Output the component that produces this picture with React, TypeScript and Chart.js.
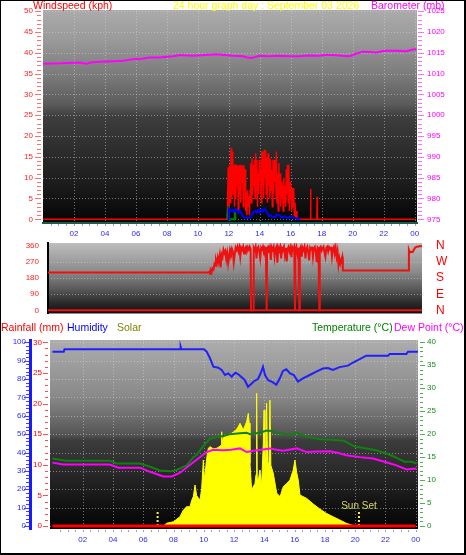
import React, { useEffect, useRef } from 'react';
import { Chart, registerables } from 'chart.js';

Chart.register(...registerables);

const FONT = '"Liberation Sans", Arial, Helvetica, sans-serif';

// ---------- tick labels ----------
const hourTicks = [2, 4, 6, 8, 10, 12, 14, 16, 18, 20, 22, 24];
const windTicks = [0, 5, 10, 15, 20, 25, 30, 35, 40, 45, 50];
const baroTicks = [975, 980, 985, 990, 995, 1000, 1005, 1010, 1015, 1020, 1025];
const dirTicks = [0, 90, 180, 270, 360];
const compassLabels = ['N', 'E', 'S', 'W', 'N'];
const humidityTicks = [0, 10, 20, 30, 40, 50, 60, 70, 80, 90, 100];
const rainTicks = [0, 5, 10, 15, 20, 25, 30];
const tempTicks = [0, 5, 10, 15, 20, 25, 30, 35, 40];

// ---------- panel 1: wind speed (kph) & barometer (mb) ----------
const baroHours = [0, 1.2, 2.39, 2.6, 2.82, 3.1, 3.68, 4.5, 5.18, 5.83, 6.4, 6.9, 7.5, 7.99, 8.4, 8.84, 9.3, 9.7, 10.5, 11.2, 11.7, 12.27, 12.9, 13.2, 13.45, 13.7, 14.0, 14.6, 15.2, 16.0, 16.57, 17.1, 17.8, 18.2, 18.72, 19.3, 19.8, 20.2, 20.66, 21.1, 21.52, 21.9, 22.17, 22.8, 23.46, 23.89, 24.1];
const baroValues = [1012.4, 1012.5, 1012.7, 1012.5, 1012.4, 1012.7, 1012.9, 1013.0, 1013.1, 1013.5, 1013.6, 1013.9, 1013.9, 1014.1, 1014.2, 1014.5, 1014.4, 1014.3, 1014.5, 1014.7, 1014.5, 1014.3, 1014.2, 1013.9, 1013.8, 1014.0, 1014.3, 1014.2, 1014.3, 1014.2, 1014.2, 1014.4, 1014.3, 1014.5, 1014.5, 1014.3, 1014.2, 1014.8, 1015.3, 1015.2, 1015.1, 1015.4, 1015.5, 1015.5, 1015.4, 1015.8, 1015.9];

const gustHours = [0, 11.9, 11.96, 12.0, 12.04, 12.08, 12.12, 12.15, 12.18, 12.22, 12.25, 12.29, 12.33, 12.37, 12.41, 12.45, 12.49, 12.53, 12.57, 12.61, 12.65, 12.69, 12.73, 12.77, 12.81, 12.85, 12.89, 12.93, 12.97, 13.01, 13.05, 13.09, 13.13, 13.17, 13.21, 13.25, 13.29, 13.33, 13.37, 13.41, 13.45, 13.49, 13.53, 13.57, 13.61, 13.65, 13.69, 13.73, 13.77, 13.81, 13.85, 13.89, 13.93, 13.97, 14.01, 14.05, 14.09, 14.13, 14.17, 14.21, 14.25, 14.29, 14.33, 14.37, 14.41, 14.45, 14.49, 14.53, 14.57, 14.61, 14.65, 14.69, 14.73, 14.77, 14.81, 14.85, 14.89, 14.93, 14.97, 15.01, 15.05, 15.07, 15.11, 15.15, 15.19, 15.23, 15.27, 15.31, 15.35, 15.39, 15.43, 15.47, 15.51, 15.55, 15.59, 15.63, 15.67, 15.71, 15.75, 15.79, 15.83, 15.87, 15.91, 15.95, 15.99, 16.03, 16.07, 16.11, 16.15, 16.19, 16.23, 16.27, 16.31, 16.35, 16.4, 17.26, 17.28, 17.3, 17.68, 17.7, 17.72, 24];
const gustValues = [0, 0, 12.5, 3, 13, 4, 13, 17.2, 5, 13, 16.3, 6, 13, 3, 13.2, 5, 13, 8, 13, 2, 13, 6, 13.1, 4, 13, 9, 13, 3, 13, 7, 12, 2, 6.5, 1, 7, 3, 5.5, 1, 7, 13.5, 4, 14.7, 6, 13, 8, 14.3, 5, 15.9, 7, 14.3, 3, 11, 6, 14.3, 9, 12, 4, 16.3, 8, 16.3, 5, 16.7, 10, 16.7, 6, 15, 4, 15.9, 8, 14.7, 5, 14.3, 7, 12, 3, 14.3, 6, 14.3, 9, 14.3, 5, 16.3, 4, 11, 2, 13.5, 6, 11, 3, 9, 5, 8, 2, 10, 4, 8, 3, 12, 6, 13.1, 4, 13.1, 2, 9, 5, 7.5, 2, 7.5, 3, 7.5, 1, 4, 0.5, 2, 0, 0, 7.3, 0, 0, 5.4, 0, 0];

const avgWindHours = [11.95, 12.0, 12.1, 12.2, 12.3, 12.4, 12.5, 12.6, 12.7, 12.8, 12.9, 13.0, 13.2, 13.4, 13.5, 13.6, 13.7, 13.8, 13.9, 14.0, 14.1, 14.2, 14.3, 14.4, 14.5, 14.6, 14.7, 14.8, 15.0, 15.1, 15.3, 15.5, 15.6, 15.8, 16.0, 16.2, 16.4, 16.6];
const avgWindValues = [0, 2.5, 2.0, 2.3, 1.8, 2.4, 2.0, 1.6, 2.2, 1.5, 0.8, 0.4, 0.3, 0.4, 1.0, 1.8, 2.0, 1.6, 2.2, 1.7, 2.3, 1.9, 2.5, 2.0, 1.4, 0.8, 1.0, 0.6, 0.5, 1.2, 0.8, 0.4, 0.7, 0.3, 0.6, 0.3, 0.2, 0];

const lullHours = [11.9, 11.96, 12.0, 12.35, 12.39, 12.43];
const lullValues = [0, 3.0, 0, 0, 1.7, 0];

// ---------- panel 2: wind direction (degrees) ----------
const dirHours = [0, 10.29, 10.35, 10.4, 10.45, 10.5, 10.55, 10.62, 10.68, 10.72, 10.78, 10.84, 10.9, 10.96, 11.02, 11.08, 11.14, 11.2, 11.26, 11.32, 11.38, 11.44, 11.5, 11.56, 11.62, 11.68, 11.74, 11.8, 11.86, 11.92, 11.98, 12.04, 12.1, 12.16, 12.22, 12.28, 12.34, 12.4, 12.46, 12.52, 12.58, 12.64, 12.7, 12.76, 12.82, 12.88, 12.94, 13.0, 13.03, 13.18, 13.2, 13.26, 13.32, 13.38, 13.44, 13.5, 13.56, 13.62, 13.68, 13.74, 13.8, 13.86, 13.92, 13.98, 14.03, 14.06, 14.12, 14.18, 14.24, 14.3, 14.36, 14.42, 14.48, 14.54, 14.6, 14.66, 14.72, 14.78, 14.84, 14.9, 14.96, 15.02, 15.08, 15.14, 15.2, 15.26, 15.32, 15.38, 15.44, 15.5, 15.56, 15.62, 15.68, 15.74, 15.8, 15.85, 15.88, 15.94, 16.0, 16.06, 16.13, 16.16, 16.22, 16.28, 16.34, 16.4, 16.46, 16.52, 16.58, 16.64, 16.7, 16.76, 16.82, 16.88, 16.94, 17.0, 17.06, 17.12, 17.18, 17.24, 17.3, 17.36, 17.41, 17.44, 17.5, 17.56, 17.62, 17.68, 17.74, 17.8, 17.86, 17.92, 17.98, 18.04, 18.1, 18.16, 18.22, 18.28, 18.34, 18.4, 18.46, 18.52, 18.58, 18.64, 18.7, 18.76, 18.82, 18.88, 18.92, 23.13, 23.16, 23.22, 23.3, 23.4, 23.55, 23.66, 24];
const dirValues = [211, 211, 216, 205, 222, 213, 235, 228, 258, 250, 282, 262, 295, 270, 305, 240, 312, 298, 338, 320, 332, 285, 318, 262, 300, 340, 322, 345, 330, 268, 310, 350, 338, 356, 330, 352, 300, 350, 340, 356, 318, 348, 355, 330, 352, 340, 356, 345, 0, 0, 350, 338, 356, 291, 348, 356, 330, 291, 350, 340, 356, 335, 352, 345, 0, 350, 356, 320, 348, 282, 352, 340, 356, 300, 345, 356, 266, 350, 335, 356, 290, 348, 340, 356, 310, 350, 274, 345, 356, 330, 350, 298, 352, 340, 356, 0, 340, 356, 320, 350, 0, 345, 356, 300, 350, 338, 356, 290, 345, 356, 326, 280, 350, 340, 356, 300, 348, 356, 330, 270, 352, 345, 0, 350, 356, 335, 348, 356, 325, 300, 350, 356, 330, 352, 340, 356, 300, 345, 356, 319, 350, 300, 330, 254, 290, 262, 282, 300, 223, 223, 338, 323, 328, 326, 350, 356, 360];
const dirBaseHours = [0, 24];
const dirBaseValues = [0, 0];

// ---------- panel 3: rain, humidity, solar, temperature, dew point ----------
const rainHours = [0, 24];
const rainValues = [0, 0];

const humidityHours = [0, 0.75, 0.8, 8.43, 8.47, 8.52, 10.01, 10.19, 10.41, 10.63, 10.96, 11.18, 11.4, 11.62, 11.84, 11.93, 12.1, 12.3, 12.5, 12.7, 12.92, 13.15, 13.35, 13.58, 13.75, 13.91, 14.05, 14.24, 14.57, 14.79, 15.0, 15.23, 15.45, 15.7, 15.95, 16.22, 16.55, 17.0, 17.43, 17.87, 18.2, 18.53, 18.97, 19.52, 19.86, 20.3, 20.73, 22.17, 22.28, 23.38, 23.49, 24.15];
const humidityValues = [94.9, 94.9, 96.2, 96.2, 97.6, 96.2, 96.2, 94.9, 91.3, 86.7, 86.2, 84.9, 82.2, 83.1, 81.3, 82.2, 83.4, 82.5, 81.0, 79.5, 75.8, 77.5, 79.0, 80.0, 83.0, 86.7, 82.0, 79.5, 78.2, 76.9, 80.0, 84.4, 85.3, 83.0, 82.2, 78.6, 80.4, 82.2, 84.0, 85.7, 86.0, 84.9, 86.5, 87.3, 89.0, 90.8, 92.7, 92.7, 93.6, 93.6, 94.9, 94.9];

const tempHours = [0, 0.9, 3.8, 4.25, 5.8, 6.45, 7.1, 7.8, 8.2, 8.87, 9.31, 9.53, 9.97, 10.2, 10.41, 10.85, 11.3, 11.73, 12.4, 12.83, 13.05, 13.7, 14.15, 14.45, 15.03, 15.48, 15.9, 16.14, 16.57, 17.0, 17.67, 18.34, 19.19, 19.41, 19.7, 19.97, 20.73, 21.39, 22.05, 22.5, 22.94, 23.27, 23.7, 24.1];
const tempValues = [14.7, 14.2, 14.2, 13.6, 13.6, 12.9, 12.1, 11.9, 12.2, 13.2, 15.0, 15.5, 17.4, 18.3, 19.0, 19.4, 19.6, 20.0, 20.2, 20.3, 20.0, 20.3, 20.8, 20.7, 20.2, 19.9, 20.0, 20.3, 19.7, 19.3, 18.9, 18.8, 18.6, 18.3, 17.8, 17.3, 16.9, 16.5, 15.8, 15.2, 14.5, 14.0, 14.0, 13.6];

const dewHours = [0, 0.72, 3.8, 4.35, 5.8, 6.45, 7.33, 7.9, 8.43, 9.31, 10.19, 10.63, 11.29, 11.8, 12.39, 12.83, 13.3, 14.37, 14.8, 15.25, 16.14, 16.8, 17.5, 18.34, 18.9, 19.41, 20.3, 21.18, 22.05, 22.72, 23.38, 24.04];
const dewValues = [13.8, 13.4, 13.4, 12.7, 12.7, 11.8, 10.8, 10.8, 11.6, 13.9, 16.1, 16.6, 16.5, 16.6, 16.9, 16.1, 16.4, 16.9, 16.6, 16.4, 16.9, 16.1, 16.2, 16.3, 15.9, 15.4, 15.0, 14.7, 13.9, 13.2, 12.3, 12.5];

const solarHours = [7.33, 7.55, 7.99, 8.43, 8.65, 8.87, 9.09, 9.2, 9.31, 9.42, 9.53, 9.75, 9.86, 9.97, 10.03, 10.08, 10.19, 10.3, 10.41, 10.63, 10.85, 11.0, 11.15, 11.18, 11.22, 11.29, 11.51, 11.84, 12.1, 12.28, 12.39, 12.61, 12.83, 12.94, 13.0, 13.05, 13.16, 13.38, 13.45, 13.49, 13.53, 13.6, 13.71, 13.82, 13.93, 13.98, 14.04, 14.1, 14.15, 14.22, 14.3, 14.37, 14.43, 14.59, 14.82, 15.04, 15.25, 15.48, 15.69, 15.91, 16.02, 16.14, 16.24, 16.35, 16.8, 17.23, 17.67, 18.09, 18.53, 18.98, 19.41, 19.86, 20.3];
const solarValues = [0, 15, 23, 51, 87, 105, 105, 140, 160, 223, 165, 141, 205, 359, 260, 280, 368, 423, 432, 420, 423, 430, 440, 513, 450, 480, 495, 505, 520, 541, 559, 523, 568, 613, 560, 341, 196, 232, 280, 722, 260, 250, 305, 220, 450, 631, 400, 350, 668, 330, 350, 686, 330, 287, 178, 160, 214, 232, 250, 305, 359, 290, 250, 169, 150, 120, 92, 69, 51, 33, 15, 3, 0];

const sunRiseHour = 6.95;
const sunSetHour = 20.25;
const sunMarkerLevel = 82;

// ---------- helpers ----------
const pts = (xs: number[], ys: number[]) => xs.map((x, i) => ({ x, y: ys[i] }));
const setTicks = (vals: number[]) => (scale: any) => {
  scale.ticks = vals.map((v) => ({ value: v }));
};
const hourLabel = (v: any) => String(Number(v) % 24).padStart(2, '0');
const plainLabel = (v: any) => String(v);
const fitY = (w: number) => (s: any) => {
  s.width = w;
  s.paddingTop = 0;
  s.paddingBottom = 0;
};
const fitX = (h: number) => (s: any) => {
  s.height = h;
  s.paddingLeft = 0;
  s.paddingRight = 0;
};

type TickSpec = {
  id: string; from: number; to: number; step: number; major: number;
  x0: number; x1: number; xm0: number; xm1: number; color: string;
};

type DecoSpec = {
  grad: [number, string][];
  vGrid: boolean;
  hScale: string;
  hTicks: number[];
  yTicks: TickSpec[];
  xMinor: boolean;
};

function decoPlugin(spec: DecoSpec) {
  return {
    id: 'deco',
    beforeDraw(chart: any) {
      const { ctx, chartArea: a, scales } = chart;
      ctx.save();
      const g = ctx.createLinearGradient(0, a.top, 0, a.bottom);
      spec.grad.forEach(([o, c]) => g.addColorStop(o, c));
      ctx.fillStyle = g;
      ctx.fillRect(a.left, a.top, a.right - a.left, a.bottom - a.top);
      ctx.strokeStyle = 'rgba(215,215,215,0.5)';
      ctx.lineWidth = 1;
      ctx.setLineDash([1, 2]);
      if (spec.vGrid) {
        hourTicks.forEach((h) => {
          const x = Math.round(scales.x.getPixelForValue(h)) + 0.5;
          if (x > a.right) return;
          ctx.beginPath();
          ctx.moveTo(x, a.top);
          ctx.lineTo(x, a.bottom);
          ctx.stroke();
        });
      }
      spec.hTicks.forEach((v) => {
        const y = Math.round(scales[spec.hScale].getPixelForValue(v)) + 0.5;
        ctx.beginPath();
        ctx.moveTo(a.left, y);
        ctx.lineTo(a.right, y);
        ctx.stroke();
      });
      ctx.restore();
    },
    afterDraw(chart: any) {
      const { ctx, chartArea: a, scales } = chart;
      ctx.save();
      ctx.lineWidth = 1;
      spec.yTicks.forEach((s) => {
        const sc = scales[s.id];
        ctx.strokeStyle = s.color;
        for (let v = s.from; v <= s.to + 1e-9; v += s.step) {
          const y = Math.round(sc.getPixelForValue(v)) + 0.5;
          const q = v / s.major;
          const major = Math.abs(q - Math.round(q)) < 1e-6;
          ctx.beginPath();
          ctx.moveTo(major ? s.xm0 : s.x0, y);
          ctx.lineTo(major ? s.xm1 : s.x1, y);
          ctx.stroke();
        }
      });
      if (spec.xMinor) {
        ctx.strokeStyle = '#9a9ad8';
        for (let h = 0.5; h <= 24; h += 0.5) {
          const x = Math.round(scales.x.getPixelForValue(h)) + 0.5;
          ctx.beginPath();
          ctx.moveTo(x, a.bottom + 1);
          ctx.lineTo(x, a.bottom + 3);
          ctx.stroke();
        }
      }
      ctx.restore();
    },
  };
}

const sunSetLabel = {
  id: 'sunSetLabel',
  afterDatasetsDraw(chart: any) {
    const { ctx, scales } = chart;
    const x = scales.x.getPixelForValue(sunSetHour);
    const y = scales.solar.getPixelForValue(sunMarkerLevel) - 5;
    ctx.save();
    ctx.font = `10px ${FONT}`;
    ctx.fillStyle = '#d8d860';
    ctx.textAlign = 'center';
    ctx.textBaseline = 'middle';
    ctx.fillText('Sun Set', x, y);
    ctx.restore();
  },
};

const line = (label: string, data: any[], axis: string, color: string, width: number, extra: any = {}) => ({
  label, data, yAxisID: axis, borderColor: color, backgroundColor: color, borderWidth: width,
  pointRadius: 0, tension: 0, fill: false, ...extra,
});

const tickFont = { size: 8, family: FONT };
const noGrid = { display: false, drawTicks: false };

const grad1: [number, string][] = [[0, '#ababab'], [0.14, '#9a9a9a'], [0.31, '#7a7a7a'], [0.44, '#5c5c5c'], [0.5, '#3e3e3e'], [0.73, '#252525'], [0.85, '#181818'], [1, '#040404']];
const grad2: [number, string][] = [[0, '#bdbdbd'], [0.4, '#8c8c8c'], [0.65, '#5a5a5a'], [0.85, '#2a2a2a'], [1, '#111111']];
const grad3: [number, string][] = [[0, '#adadad'], [0.29, '#8a8a8a'], [0.42, '#6a6a6a'], [0.5, '#555555'], [0.53, '#3c3c3c'], [0.69, '#2a2a2a'], [0.85, '#151515'], [1, '#030303']];

function makeChart1(canvas: HTMLCanvasElement) {
  return new Chart(canvas, {
    type: 'line',
    data: {
      datasets: [
        line('Average wind', pts(avgWindHours, avgWindValues), 'wind', '#0000ff', 2),
        line('Wind lull', pts(lullHours, lullValues), 'wind', '#008000', 2),
        line('Wind gust', pts(gustHours, gustValues), 'wind', '#ff0000', 1.5),
        line('Barometer', pts(baroHours, baroValues), 'baro', '#ff00ff', 2),
      ],
    },
    options: {
      animation: false, responsive: false, maintainAspectRatio: false, devicePixelRatio: 1,
      layout: { padding: { top: 10, bottom: 0, left: 0, right: 0 } },
      plugins: { legend: { display: false }, tooltip: { enabled: false }, title: { display: false } },
      scales: {
        x: {
          type: 'linear', min: 0, max: 24.15, afterBuildTicks: setTicks(hourTicks), afterFit: fitX(17),
          ticks: { callback: hourLabel, color: '#2a2aff', font: tickFont, padding: 6, maxRotation: 0, autoSkip: false },
          grid: noGrid, border: { display: true, color: '#1f5a4a', width: 2 },
        },
        wind: {
          type: 'linear', position: 'left', min: -0.89, max: 50.31, afterBuildTicks: setTicks(windTicks), afterFit: fitY(43),
          ticks: { callback: plainLabel, color: '#ff2020', font: tickFont, padding: 10, autoSkip: false },
          grid: noGrid, border: { display: false },
        },
        baro: {
          type: 'linear', position: 'right', min: 974.11, max: 1025.31, afterBuildTicks: setTicks(baroTicks), afterFit: fitY(49),
          ticks: { callback: plainLabel, color: '#ff00ff', font: tickFont, padding: 10, autoSkip: false },
          grid: noGrid, border: { display: false },
        },
      },
    } as any,
    plugins: [decoPlugin({
      grad: grad1, vGrid: true, hScale: 'wind', hTicks: windTicks, xMinor: true,
      yTicks: [
        { id: 'wind', from: 0, to: 50, step: 1, major: 5, x0: 37, x1: 41, xm0: 35, xm1: 41, color: '#ff7070' },
        { id: 'baro', from: 975, to: 1025, step: 1, major: 5, x0: 418, x1: 422, xm0: 418, xm1: 424, color: '#ff70ff' },
      ],
    })],
  });
}

function makeChart2(canvas: HTMLCanvasElement) {
  return new Chart(canvas, {
    type: 'line',
    data: {
      datasets: [
        line('Wind direction', pts(dirHours, dirValues), 'dir', '#ee1111', 2),
        line('Direction base', pts(dirBaseHours, dirBaseValues), 'dir', '#ee1111', 2),
      ],
    },
    options: {
      animation: false, responsive: false, maintainAspectRatio: false, devicePixelRatio: 1,
      layout: { padding: { top: 5, bottom: 4.5, left: 0, right: 0 } },
      plugins: { legend: { display: false }, tooltip: { enabled: false } },
      scales: {
        x: { type: 'linear', display: false, min: 0, max: 24 },
        dir: {
          type: 'linear', position: 'left', min: -17.9, max: 376.8, afterBuildTicks: setTicks(dirTicks), afterFit: fitY(48),
          ticks: { callback: plainLabel, color: '#ff2020', font: tickFont, padding: 9, autoSkip: false },
          grid: noGrid, border: { display: true, color: '#000000', width: 2 },
        },
        compass: {
          type: 'linear', position: 'right', min: -17.9, max: 376.8, afterBuildTicks: setTicks(dirTicks), afterFit: fitY(44),
          ticks: { callback: (v: any) => compassLabels[dirTicks.indexOf(Number(v))], color: '#ff0000', font: { size: 12, family: FONT }, padding: 14, autoSkip: false },
          grid: noGrid, border: { display: false },
        },
      },
    } as any,
    plugins: [decoPlugin({ grad: grad2, vGrid: false, hScale: 'dir', hTicks: [90, 180, 270], xMinor: false, yTicks: [] })],
  });
}

function makeChart3(canvas: HTMLCanvasElement) {
  return new Chart(canvas, {
    type: 'line',
    data: {
      datasets: [
        line('Rainfall', pts(rainHours, rainValues), 'rain', '#ff0000', 3),
        line('Sun rise', [{ x: sunRiseHour, y: 0 }, { x: sunRiseHour, y: sunMarkerLevel }], 'solar', '#f0f060', 2, { borderDash: [2, 2] }),
        line('Sun set', [{ x: sunSetHour, y: 0 }, { x: sunSetHour, y: sunMarkerLevel }], 'solar', '#f0f060', 2, { borderDash: [2, 2] }),
        line('Humidity', pts(humidityHours, humidityValues), 'humidity', '#2020ff', 2),
        line('Dew Point', pts(dewHours, dewValues), 'temp', '#ff00ff', 2),
        line('Temperature', pts(tempHours, tempValues), 'temp', '#108010', 2),
        line('Solar', pts(solarHours, solarValues), 'solar', '#ffff00', 1, { fill: 'origin', backgroundColor: '#ffff00' }),
      ],
    },
    options: {
      animation: false, responsive: false, maintainAspectRatio: false, devicePixelRatio: 1,
      layout: { padding: { top: 20, bottom: 0, left: 0, right: 0 } },
      plugins: { legend: { display: false }, tooltip: { enabled: false } },
      scales: {
        x: {
          type: 'linear', min: -0.16, max: 24.15, afterBuildTicks: setTicks(hourTicks), afterFit: fitX(26),
          ticks: { callback: hourLabel, color: '#2a2aff', font: tickFont, padding: 6, maxRotation: 0, autoSkip: false },
          grid: noGrid, border: { display: false },
        },
        humidity: {
          type: 'linear', position: 'left', weight: 1, min: -1.63, max: 101.25, afterBuildTicks: setTicks(humidityTicks), afterFit: fitY(30),
          ticks: { callback: plainLabel, color: '#2a2aff', font: tickFont, padding: 4, autoSkip: false },
          grid: noGrid, border: { display: true, color: '#1a1aff', width: 3 },
        },
        rain: {
          type: 'linear', position: 'left', weight: 0, min: -0.49, max: 30.376, afterBuildTicks: setTicks(rainTicks), afterFit: fitY(20),
          ticks: { callback: plainLabel, color: '#ff0000', font: tickFont, padding: 8, autoSkip: false },
          grid: noGrid, border: { display: false },
        },
        temp: {
          type: 'linear', position: 'right', min: -0.65, max: 40.5, afterBuildTicks: setTicks(tempTicks), afterFit: fitY(48),
          ticks: { callback: plainLabel, color: '#1a8a1a', font: tickFont, padding: 9, autoSkip: false },
          grid: noGrid, border: { display: false },
        },
        solar: { type: 'linear', display: false, min: -16.3, max: 1012.5 },
      },
    } as any,
    plugins: [
      decoPlugin({
        grad: grad3, vGrid: true, hScale: 'humidity', hTicks: humidityTicks, xMinor: true,
        yTicks: [
          { id: 'humidity', from: 0, to: 100, step: 2, major: 10, x0: 26, x1: 29, xm0: 24, xm1: 29, color: '#4040ff' },
          { id: 'rain', from: 0, to: 30, step: 1, major: 5, x0: 45, x1: 48, xm0: 43, xm1: 48, color: '#ff5050' },
          { id: 'temp', from: 0, to: 40, step: 1, major: 5, x0: 420, x1: 423, xm0: 420, xm1: 425, color: '#50b050' },
        ],
      }),
      sunSetLabel,
    ],
  });
}

const titleStyle = (left: number, top: number, color: string): React.CSSProperties => ({
  position: 'absolute', left, top, color, fontFamily: FONT, fontSize: '10.5px', lineHeight: '12px', whiteSpace: 'nowrap',
});

export default function App() {
  const ref1 = useRef<HTMLCanvasElement>(null);
  const ref2 = useRef<HTMLCanvasElement>(null);
  const ref3 = useRef<HTMLCanvasElement>(null);

  useEffect(() => {
    Chart.defaults.font.family = FONT;
    const c1 = makeChart1(ref1.current as HTMLCanvasElement);
    const c2 = makeChart2(ref2.current as HTMLCanvasElement);
    const c3 = makeChart3(ref3.current as HTMLCanvasElement);
    return () => {
      c1.destroy();
      c2.destroy();
      c3.destroy();
    };
  }, []);

  return (
    <div style={{ position: 'absolute', left: 0, top: 0, width: 466, height: 555, background: '#ffffff', overflow: 'hidden' }}>
      <canvas ref={ref1} width={466} height={240} style={{ position: 'absolute', left: 0, top: 0 }} />
      <canvas ref={ref2} width={466} height={80} style={{ position: 'absolute', left: 0, top: 238 }} />
      <canvas ref={ref3} width={466} height={235} style={{ position: 'absolute', left: 0, top: 320 }} />
      <span style={titleStyle(33, -1, '#ff0000')}>Windspeed (kph)</span>
      <span style={titleStyle(173, -1, '#ffff00')}>24 hour graph day : September 03 2026</span>
      <span style={titleStyle(371, -1, '#ff00ff')}>Barometer (mb)</span>
      <span style={titleStyle(1, 321, '#ff0000')}>Rainfall (mm)</span>
      <span style={titleStyle(67, 321, '#0000ff')}>Humidity</span>
      <span style={titleStyle(117, 321, '#808000')}>Solar</span>
      <span style={titleStyle(312, 321, '#008000')}>Temperature (°C)</span>
      <span style={titleStyle(394, 321, '#ff00ff')}>Dew Point (°C)</span>
      <div style={{ position: 'absolute', left: 0, top: 0, width: 466, height: 555, boxSizing: 'border-box', borderStyle: 'solid', borderColor: '#000', borderWidth: '1px 2px 2px 1px', pointerEvents: 'none' }} />
    </div>
  );
}
